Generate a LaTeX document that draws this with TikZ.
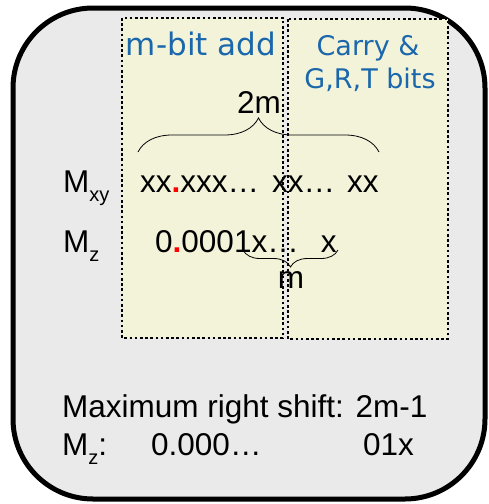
\documentclass[tikz,border=0pt]{standalone}
\usepackage{fontspec}
\setmainfont{Liberation Sans}
\newfontfamily\vfont{DejaVu Sans}
\usepackage{xcolor}
\usetikzlibrary{decorations.pathreplacing}
\definecolor{panelbg}{HTML}{EAEAEA}
\definecolor{colbg}{HTML}{F3F3DA}
\definecolor{bluex}{HTML}{1A67AC}
\newcommand{\lowsub}[1]{\raisebox{-9pt}{\fontsize{20}{20}\selectfont #1}}
\newcommand{\reddot}{\textcolor{red}{\textbf{.}}}
\tikzset{
  panel/.style={draw=black,line width=5pt,rounded corners=80pt,fill=panelbg},
  col/.style={draw=black,line width=1.6pt,dash pattern=on 2.6pt off 2.6pt,fill=colbg},
  lbl/.style={inner sep=0pt,font=\fontsize{31.5}{36}\selectfont},
  bluelbl/.style={inner sep=0pt,text=bluex},
  brc/.style={thick,decorate,decoration={brace,amplitude=#1}}
}

\begin{document}
\begin{tikzpicture}[x=1pt,y=-1pt]
\useasboundingbox (0,0) rectangle (488,504);
\draw[panel] (13,8) rectangle (485,499);
\draw[col] (122,18) rectangle (283,338);
\draw[col] (288,19) rectangle (448,339);
% column headings
\node[bluelbl,font=\vfont\fontsize{31}{36}\selectfont,anchor=base] (addlbl) at (201,55) {m-bit add};
\node[bluelbl,font=\vfont\fontsize{27}{32}\selectfont,anchor=base] (carrylbl) at (368,55) {Carry \&};
\node[bluelbl,font=\vfont\fontsize{27}{32}\selectfont,anchor=base] (grtlbl) at (370,88) {G,R,T bits};
% operands
\node[lbl,anchor=base] (twom) at (259,113) {2m};
\coordinate (tbl) at (138,152);
\coordinate (tbr) at (379,152);
\draw[brc=34pt] (tbl) -- (tbr);
\node[lbl,anchor=base west] (mxy) at (63,192) {M\lowsub{xy}};
\node[lbl,anchor=base west] (mxyval) at (140,192) {xx\reddot xxx…\hspace{13pt}xx…\hspace{12pt}xx};
\node[lbl,anchor=base west] (mz) at (63,252) {M\lowsub{z}};
\node[lbl,anchor=base west] (mzval) at (155,252) {0\reddot 0001x…\hspace{22pt}x};
\coordinate (bbl) at (243,250);
\coordinate (bbr) at (338,250);
\draw[brc=17pt,decoration={mirror}] (bbl) -- (bbr);
\node[lbl,anchor=base] (onem) at (291,288) {m};
% shift note
\node[lbl,anchor=base west] (shift) at (62,417) {Maximum right shift: 2m-1};
\node[lbl,anchor=base west] (mzb) at (62,455) {M\lowsub{z}:};
\node[lbl,anchor=base west] (mzlead) at (151,455) {0.000…};
\node[lbl,anchor=base west] (mztail) at (363,455) {01x};
\end{tikzpicture}
\end{document}
